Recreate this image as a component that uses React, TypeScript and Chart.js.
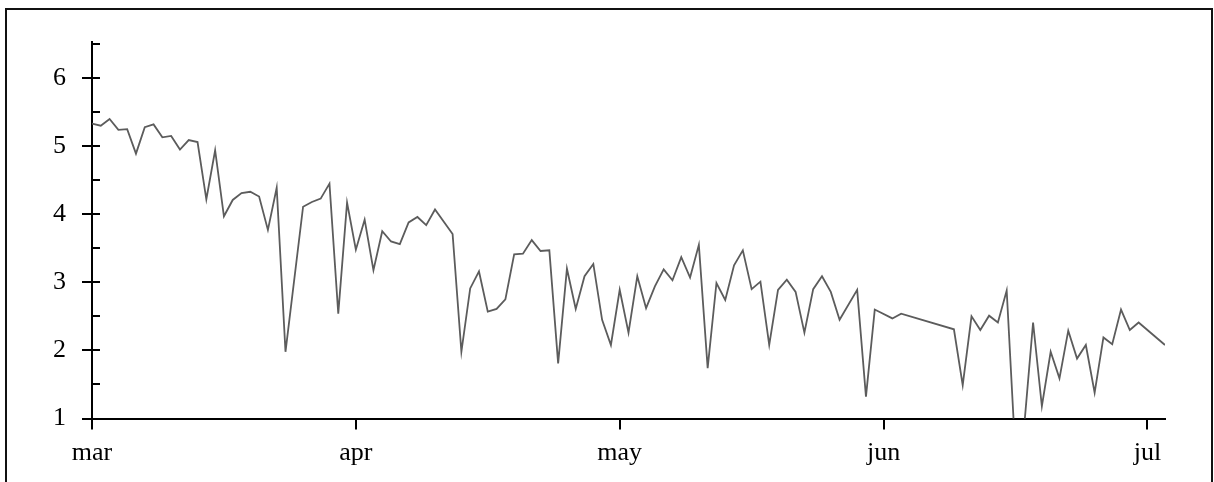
import React, { useEffect, useRef } from 'react';
import { Chart, registerables } from 'chart.js';

Chart.register(...registerables);

// Day offsets since 1 March (data-point positions) and values
const days = [
  0, 1, 2, 3, 4, 5, 6, 7, 8, 9, 10, 11, 12, 13, 14, 15, 16, 17, 18, 19, 20, 21, 22,
  24, 25, 26, 27, 28, 29, 30, 31, 32, 33, 34, 35, 36, 37, 38, 39,
  41, 42, 43, 44, 45, 46, 47, 48, 49, 50, 51, 52, 53, 54, 55, 56, 57, 58, 59, 60,
  61, 62, 63, 64, 65, 66, 67, 68, 69, 70, 71, 72, 73, 74, 75, 76, 77, 78, 79, 80,
  81, 82, 83, 84, 85, 87, 88, 89, 91, 92,
  98, 99, 100, 101, 102, 103, 104, 105, 106, 107, 108, 109, 110, 111, 112, 113,
  114, 115, 116, 117, 118, 119, 122,
];
const values = [
  5.33, 5.30, 5.40, 5.24, 5.25, 4.89, 5.28, 5.32, 5.13, 5.15, 4.95, 5.09, 5.06, 4.22, 4.94, 3.97, 4.21, 4.31, 4.33, 4.26, 3.77, 4.39, 1.98,
  4.11, 4.18, 4.23, 4.45, 2.54, 4.17, 3.48, 3.92, 3.18, 3.75, 3.60, 3.56, 3.88, 3.96, 3.84, 4.07,
  3.71, 1.98, 2.91, 3.16, 2.57, 2.61, 2.75, 3.41, 3.42, 3.62, 3.46, 3.47, 1.81, 3.20, 2.61, 3.09, 3.27, 2.45, 2.08, 2.89,
  2.26, 3.09, 2.62, 2.94, 3.19, 3.03, 3.37, 3.07, 3.55, 1.74, 2.99, 2.74, 3.25, 3.47, 2.90, 3.01, 2.08, 2.89, 3.04, 2.86,
  2.26, 2.90, 3.09, 2.86, 2.45, 2.89, 1.32, 2.60, 2.47, 2.54,
  2.31, 1.49, 2.50, 2.30, 2.51, 2.41, 2.88, 0.45, 0.9, 2.41, 1.18, 1.98, 1.59, 2.29, 1.88, 2.08,
  1.38, 2.19, 2.09, 2.60, 2.30, 2.41, 2.08,
];

const monthTicks = [0, 30, 60, 90, 120];
const monthLabels = ['mar', 'apr', 'may', 'jun', 'jul'];
const yTicks = [1, 1.5, 2, 2.5, 3, 3.5, 4, 4.5, 5, 5.5, 6, 6.5];
const xMin = 0;
const xMax = 122;
const yMin = 1;
const yMax = 6.53;

const FONT = '"Liberation Serif", "Times New Roman", serif';

const innerTicks = {
  id: 'innerTicks',
  afterDraw(chart: any) {
    const { ctx, chartArea, scales } = chart;
    const y = scales.y;
    ctx.save();
    ctx.strokeStyle = '#000';
    ctx.lineWidth = 2;
    ctx.beginPath();
    yTicks.forEach((v) => {
      const py = Math.round(y.getPixelForValue(v));
      ctx.moveTo(chartArea.left, py);
      ctx.lineTo(chartArea.left + 8, py);
    });
    ctx.stroke();
    ctx.restore();
  },
};

export default function App() {
  const ref = useRef<HTMLCanvasElement | null>(null);

  useEffect(() => {
    if (!ref.current) return;
    const chart = new Chart(ref.current, {
      type: 'line',
      data: {
        datasets: [
          {
            data: days.map((d, i) => ({ x: d, y: values[i] })),
            borderColor: '#5c5c5c',
            borderWidth: 1.8,
            pointRadius: 0,
            tension: 0,
            fill: false,
          },
        ],
      },
      options: {
        animation: false,
        responsive: false,
        events: [],
        layout: { padding: { left: 0, right: 49, top: 42, bottom: 0 } },
        plugins: { legend: { display: false }, tooltip: { enabled: false } },
        scales: {
          x: {
            type: 'linear',
            min: xMin,
            max: xMax,
            afterFit: (s: any) => {
              s.height = 63.5;
            },
            afterBuildTicks: (s: any) => {
              s.ticks = monthTicks.map((v) => ({ value: v }));
            },
            ticks: {
              autoSkip: false,
              maxRotation: 0,
              padding: 8,
              color: '#000',
              font: { family: FONT, size: 26 },
              callback: (v: any) => {
                const i = monthTicks.indexOf(Number(v));
                return i >= 0 ? monthLabels[i] : '';
              },
            },
            grid: {
              drawOnChartArea: false,
              drawTicks: true,
              tickLength: 11,
              color: '#000',
              lineWidth: 2,
            },
            border: { display: true, color: '#000', width: 2 },
          },
          y: {
            type: 'linear',
            min: yMin,
            max: yMax,
            afterFit: (s: any) => {
              s.width = 92;
            },
            afterBuildTicks: (s: any) => {
              s.ticks = yTicks.map((v) => ({ value: v }));
            },
            ticks: {
              autoSkip: false,
              padding: 16,
              color: '#000',
              font: { family: FONT, size: 26 },
              callback: (v: any) => (Number(v) % 1 === 0 ? String(v) : ''),
            },
            grid: {
              drawOnChartArea: false,
              drawTicks: true,
              tickLength: 10,
              color: (c: any) => (c.tick && c.tick.value % 1 === 0 ? '#000' : 'rgba(0,0,0,0)'),
              lineWidth: 2,
            },
            border: { display: true, color: '#000', width: 2 },
          },
        },
      },
      plugins: [innerTicks],
    });
    return () => chart.destroy();
  }, []);

  return (
    <div style={{ position: 'fixed', left: 0, top: 0, width: 1214, height: 482, background: '#fff', overflow: 'hidden' }}>
      <div
        style={{
          position: 'absolute',
          left: 5,
          top: 8,
          width: 1208,
          height: 490,
          border: '2px solid #111',
          boxSizing: 'border-box',
        }}
      />
      <canvas
        ref={ref}
        width={1214}
        height={482}
        style={{ position: 'absolute', left: 0, top: 0, width: 1214, height: 482 }}
      />
    </div>
  );
}
